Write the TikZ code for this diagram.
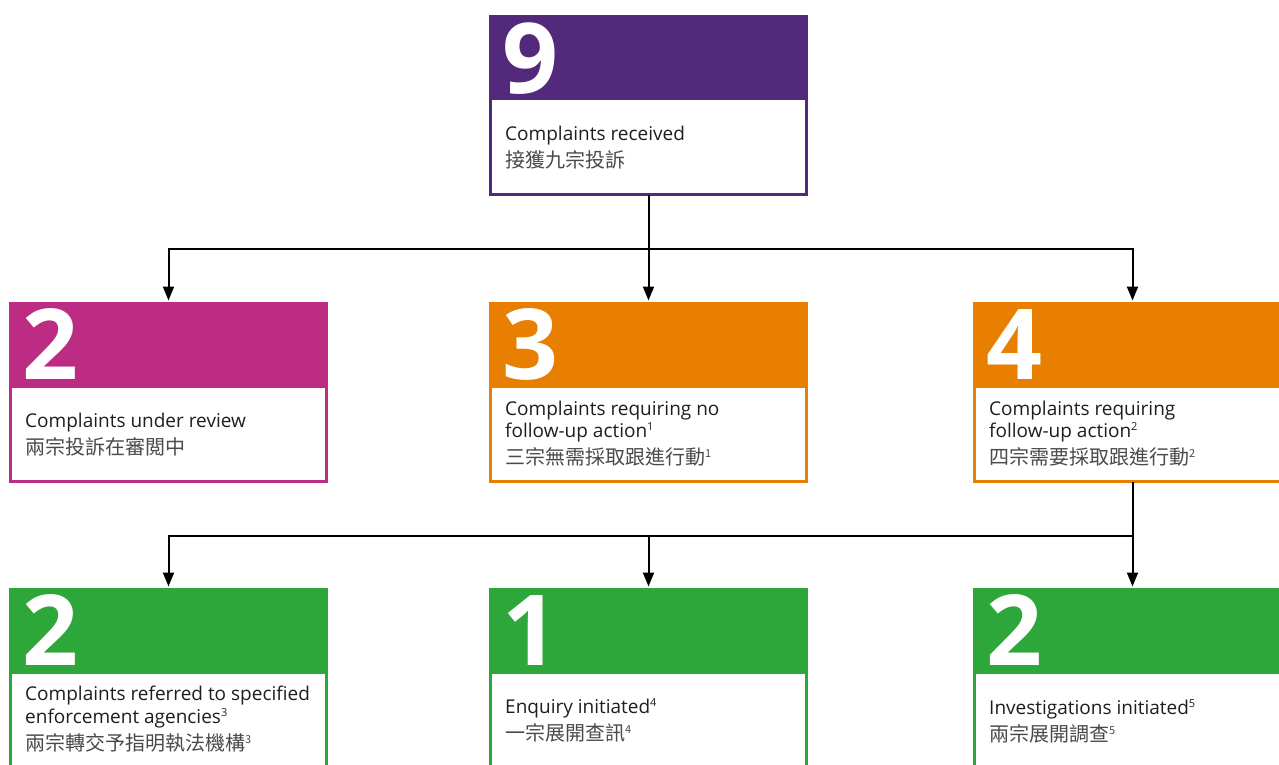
\documentclass[tikz,border=0pt]{standalone}
\usepackage{fontspec}
\setmainfont{Open Sans}
\newfontfamily\cjk{Noto Sans CJK TC}
\usetikzlibrary{arrows.meta}
\definecolor{cpurple}{HTML}{53297C}
\definecolor{cmagenta}{HTML}{BC2C82}
\definecolor{corange}{HTML}{E87F00}
\definecolor{cgreen}{HTML}{2DA63A}
\definecolor{ctext}{HTML}{1E1E1E}
\definecolor{cgray}{HTML}{4A4A4A}
\newcommand{\sups}[1]{\raisebox{7pt}{\fontsize{11}{11}\selectfont #1}}
\tikzset{
  box/.style={draw=#1, line width=3pt, fill=white, minimum width=316pt, minimum height=178pt, inner sep=0pt, outer sep=0pt, anchor=north west},
  bigbox/.style={draw=#1, line width=3pt, fill=white, minimum width=316pt, minimum height=220pt, inner sep=0pt, outer sep=0pt, anchor=north west},
  num/.style={text=white, font=\bfseries\fontsize{98}{98}\selectfont, anchor=base west, inner sep=0pt},
  en/.style={text=ctext, font=\fontsize{19}{22}\selectfont, anchor=base west, inner sep=0pt},
  zh/.style={text=cgray, font=\cjk\fontsize{20}{22}\selectfont, anchor=base west, inner sep=0pt},
  conn/.style={line width=2pt, black},
  arr/.style={line width=2pt, black, -{Triangle[length=14pt,width=11pt]}, shorten >=3pt}
}
\begin{document}
\begin{tikzpicture}[x=1pt,y=-1pt]
\useasboundingbox (0,0) rectangle (1279,764);
\clip (0,0) rectangle (1279,764);
% top box
\node[box=cpurple] (top) at (490.5,16.5) {};
\fill[cpurple] (489,15) rectangle (808,100);
\node[num] (ntop) at (502,93) {9};
\node[en] (ttop) at (505,140) {Complaints received};
\node[zh] (ztop) at (505,167) {接獲九宗投訴};
% row 2
\node[box=cmagenta] (b1) at (10.5,303.5) {};
\fill[cmagenta] (9,302) rectangle (328,388);
\node[num] (nb1) at (22,379) {2};
\node[en] (tb1) at (25,427) {Complaints under review};
\node[zh] (zb1) at (25,454) {兩宗投訴在審閲中};

\node[box=corange] (b2) at (490.5,303.5) {};
\fill[corange] (489,302) rectangle (808,388);
\node[num] (nb2) at (502,379) {3};
\node[en] (tb2a) at (505,415) {Complaints requiring no};
\node[en] (tb2b) at (505,437) {follow-up action\sups{1}};
\node[zh] (zb2) at (505,464) {三宗無需採取跟進行動\sups{1}};

\node[box=corange] (b3) at (974.5,303.5) {};
\fill[corange] (973,302) rectangle (1292,388);
\node[num] (nb3) at (986,379) {4};
\node[en] (tb3a) at (989,415) {Complaints requiring};
\node[en] (tb3b) at (989,437) {follow-up action\sups{2}};
\node[zh] (zb3) at (989,464) {四宗需要採取跟進行動\sups{2}};
% row 3
\node[bigbox=cgreen] (c1) at (10.5,589.5) {};
\fill[cgreen] (9,588) rectangle (328,674);
\node[num] (nc1) at (22,665) {2};
\node[en] (tc1a) at (25,700) {Complaints referred to specified};
\node[en] (tc1b) at (25,723) {enforcement agencies\sups{3}};
\node[zh] (zc1) at (25,750) {兩宗轉交予指明執法機構\sups{3}};

\node[bigbox=cgreen] (c2) at (490.5,589.5) {};
\fill[cgreen] (489,588) rectangle (808,674);
\node[num] (nc2) at (502,665) {1};
\node[en] (tc2) at (505,713) {Enquiry initiated\sups{4}};
\node[zh] (zc2) at (505,740) {一宗展開查訊\sups{4}};

\node[bigbox=cgreen] (c3) at (974.5,589.5) {};
\fill[cgreen] (973,588) rectangle (1292,674);
\node[num] (nc3) at (986,665) {2};
\node[en] (tc3) at (989,714) {Investigations initiated\sups{5}};
\node[zh] (zc3) at (989,741) {兩宗展開調查\sups{5}};
% connectors
\coordinate (j1) at (648.5,249);
\coordinate (j2) at (1132.5,536);
\draw[conn] (top.south) -- (j1);
\draw[arr] (j1) -| (b1.north);
\draw[arr] (j1) -- (b2.north);
\draw[arr] (j1) -| (b3.north);
\draw[conn] (b3.south) -- (j2);
\draw[arr] (j2) -- (c3.north);
\draw[arr] (j2) -| (c1.north);
\draw[arr] (c2.north |- j2) -- (c2.north);
\end{tikzpicture}
\end{document}
